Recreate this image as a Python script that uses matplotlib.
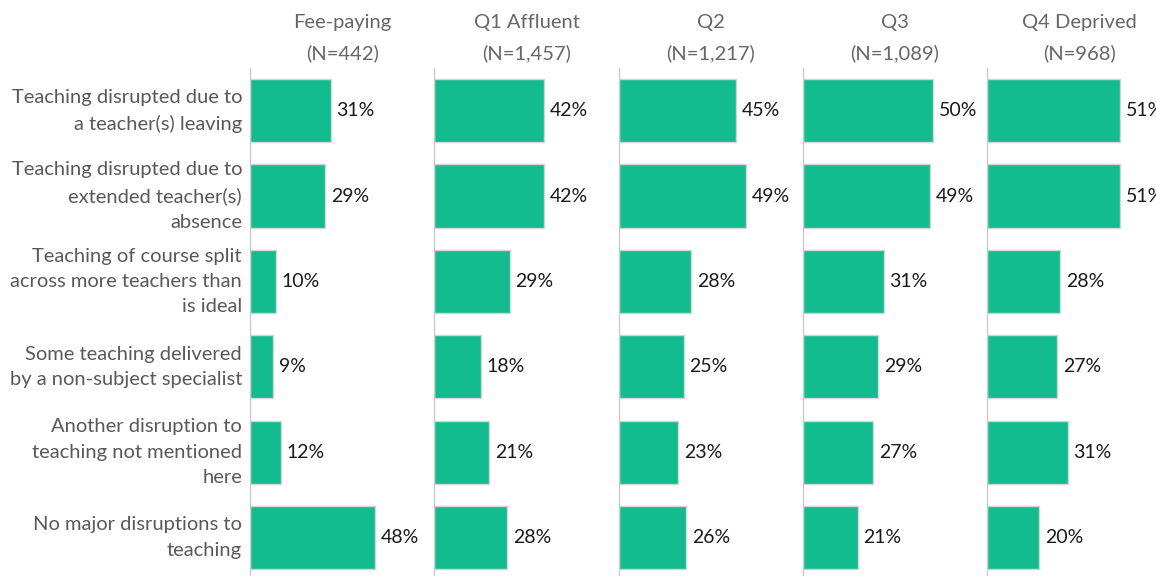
import matplotlib.pyplot as plt

plt.rcParams['font.family'] = ['Lato', 'DejaVu Sans']

categories = [
    "Teaching disrupted due to\na teacher(s) leaving",
    "Teaching disrupted due to\nextended teacher(s)\nabsence",
    "Teaching of course split\nacross more teachers than\nis ideal",
    "Some teaching delivered\nby a non-subject specialist",
    "Another disruption to\nteaching not mentioned\nhere",
    "No major disruptions to\nteaching",
]
groups = ["Fee-paying\n(N=442)", "Q1 Affluent\n(N=1,457)", "Q2\n(N=1,217)",
          "Q3\n(N=1,089)", "Q4 Deprived\n(N=968)"]
fee_paying = [31, 29, 10, 9, 12, 48]
q1_affluent = [42, 42, 29, 18, 21, 28]
q2 = [45, 49, 28, 25, 23, 26]
q3 = [50, 49, 31, 29, 27, 21]
q4_deprived = [51, 51, 28, 27, 31, 20]
series = [fee_paying, q1_affluent, q2, q3, q4_deprived]

W, H = 1156, 576
fig = plt.figure(figsize=(W / 100, H / 100), dpi=100)

bar_color = '#13BC8F'
left0 = 250
panel_w = 184.3
top = 68
xmax = 70.8

for k, (name, vals) in enumerate(zip(groups, series)):
    x0 = left0 + k * panel_w
    ax = fig.add_axes([x0 / W, 0, panel_w / W, (H - top) / H])
    ypos = list(range(len(categories)))
    ax.barh(ypos, vals, height=0.74, color=bar_color, edgecolor='#d4d4d4', linewidth=1)
    ax.set_xlim(0, xmax)
    ax.set_ylim(5.45, -0.5)
    for y, v in zip(ypos, vals):
        ax.text(v + 2.2, y, f"{v}%", va='center', ha='left', fontsize=14, color='#1a1a1a')
    for s in ['top', 'right', 'bottom']:
        ax.spines[s].set_visible(False)
    ax.spines['left'].set_color('#cccccc')
    ax.spines['left'].set_linewidth(1)
    ax.set_xticks([])
    ax.set_yticks([])
    ax.text(0.5, 1.0 + 6 / (H - top), name, transform=ax.transAxes, ha='center', va='bottom',
            fontsize=14.5, color='#666666', linespacing=1.87)
    if k == 0:
        for y, c in zip(ypos, categories):
            ax.text(-8 / panel_w * xmax, y, c, ha='right', va='center', fontsize=14.5,
                    color='#595959', linespacing=1.6)

fig.savefig('out.png', dpi=100)
